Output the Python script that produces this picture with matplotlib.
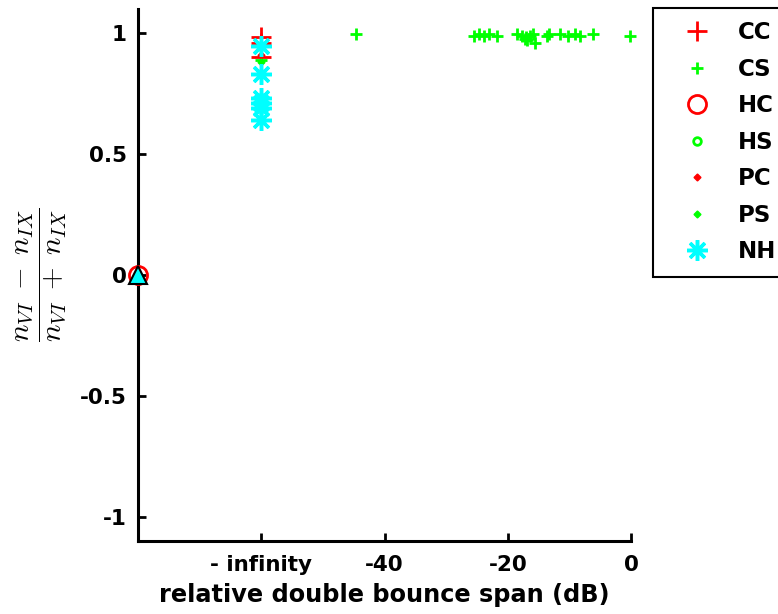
import matplotlib
matplotlib.use("Agg")
import matplotlib.pyplot as plt
import numpy as np

plt.rcParams['font.family'] = ['DejaVu Sans']
plt.rcParams['mathtext.fontset'] = 'cm'

# x in dB (the "- infinity" column is drawn at -60, origin column at -80)
cc_x = [-60, -60, -60]
cc_y = [0.985, 0.96, 0.90]
cs_x = [-44.6, -25.5, -24.7, -23.9, -23.0, -21.7, -18.5, -17.7, -17.0, -16.4, -15.9,
        -15.6, -13.6, -13.3, -11.5, -10.2, -9.1, -8.3, -6.2, -0.2, -60, -60, -17.2, -16.8]
cs_y = [0.995, 0.99, 0.995, 0.99, 0.995, 0.99, 0.995, 0.99, 0.985, 0.99, 0.995,
        0.96, 0.99, 0.995, 0.995, 0.99, 0.995, 0.99, 0.995, 0.99, 0.89, 0.83, 0.975, 0.97]
hc_x = [-80]
hc_y = [0.0]
pc_x = [-80, -60]
pc_y = [0.0, 0.91]
ps_x = [-60]
ps_y = [0.88]
nh_x = [-60, -60, -60, -60, -60, -60]
nh_y = [0.945, 0.83, 0.73, 0.71, 0.69, 0.64]
tri_x = [-80]
tri_y = [0.0]

xticks = [-60, -40, -20, 0]
xticklabels = ['- infinity', '-40', '-20', '0']
yticks = [-1, -0.5, 0, 0.5, 1]
yticklabels = ['-1', '-0.5', '0', '0.5', '1']

fig = plt.figure(figsize=(7.78, 6.14), dpi=100)
ax = fig.add_axes([138/778, 1-541/614, (631-138)/778, (541-9)/614])

red = '#ff0000'
green = '#00ff00'
cyan = '#00ffff'

h_cc, = ax.plot(cc_x, cc_y, '+', color=red, ms=14, mew=2, label='CC', clip_on=False, zorder=3)
h_cs, = ax.plot(cs_x, cs_y, '+', color=green, ms=8.5, mew=2, label='CS', clip_on=False, zorder=3)
h_hc, = ax.plot(hc_x, hc_y, 'o', color=red, mfc='none', ms=13, mew=2, label='HC', clip_on=False, zorder=3)
h_hs, = ax.plot([], [], 'o', color=green, mfc='none', ms=5.5, mew=2, label='HS')
h_pc, = ax.plot(pc_x, pc_y, 'D', color=red, ms=3.5, mew=1, label='PC', clip_on=False, zorder=3)
h_ps, = ax.plot(ps_x, ps_y, 'D', color=green, ms=3.5, mew=1, label='PS', clip_on=False, zorder=3)
h_nh, = ax.plot(nh_x, nh_y, marker=(8, 2, 0), ls='none', color=cyan, ms=15, mew=2.5, label='NH', clip_on=False, zorder=3)
ax.plot(tri_x, tri_y, '^', mfc=cyan, mec='black', ms=13, mew=1.5, clip_on=False, zorder=4)

ax.set_xlim(-80, 0)
ax.set_ylim(-1.1, 1.1)
ax.set_xticks(xticks)
ax.set_xticklabels(xticklabels)
ax.set_yticks(yticks)
ax.set_yticklabels(yticklabels)
for s in ['top', 'right']:
    ax.spines[s].set_visible(False)
for s in ['left', 'bottom']:
    ax.spines[s].set_linewidth(2.2)
ax.tick_params(direction='in', length=6, width=2, labelsize=15.5)
ax.tick_params(axis='x', pad=10)
ax.tick_params(axis='y', pad=8)
for lab in ax.get_xticklabels() + ax.get_yticklabels():
    lab.set_fontweight('bold')

ax.set_xlabel('relative double bounce span (dB)', fontsize=17.3, fontweight='bold', labelpad=6)
ax.set_ylabel(r'$\dfrac{n_{VI}\;-\;n_{IX}}{n_{VI}\;+\;n_{IX}}$', fontsize=21, labelpad=8)

leg = fig.legend(handles=[h_cc, h_cs, h_hc, h_hs, h_pc, h_ps, h_nh],
                 loc='upper left', bbox_to_anchor=(653/778, 1-8/614),
                 bbox_transform=fig.transFigure, borderaxespad=0,
                 prop={'size': 16.5, 'weight': 'bold'}, fancybox=False,
                 framealpha=1, edgecolor='black', labelspacing=0.59,
                 handlelength=2.65, handletextpad=0.46, borderpad=0.58, numpoints=1)
leg.get_frame().set_linewidth(1.5)

fig.savefig('out.png', dpi=100)
